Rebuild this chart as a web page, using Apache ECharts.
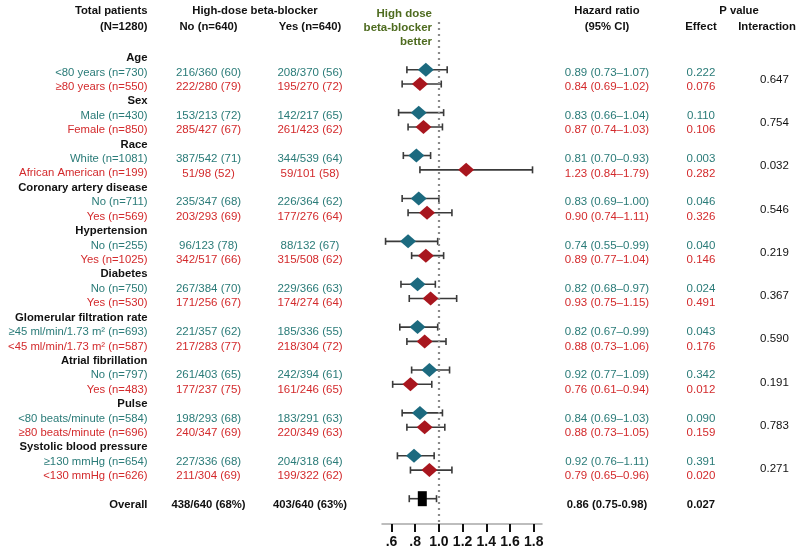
<!DOCTYPE html>
<html>
<head>
<meta charset="utf-8">
<script src="https://cdn.jsdelivr.net/npm/echarts@6/dist/echarts.min.js"></script>
<style>html,body{margin:0;padding:0;background:#fff}#c{width:800px;height:554px}</style>
</head>
<body>
<div id="c"></div>
<script>
// ---------- data ----------
const groups = ['Age','Sex','Race','Coronary artery disease','Hypertension','Diabetes','Glomerular filtration rate','Atrial fibrillation','Pulse','Systolic blood pressure'];
const subA = ['<80 years (n=730)','Male (n=430)','White (n=1081)','No (n=711)','No (n=255)','No (n=750)','≥45 ml/min/1.73 m² (n=693)','No (n=797)','<80 beats/minute (n=584)','≥130 mmHg (n=654)'];
const subB = ['≥80 years (n=550)','Female (n=850)','African American (n=199)','Yes (n=569)','Yes (n=1025)','Yes (n=530)','<45 ml/min/1.73 m² (n=587)','Yes (n=483)','≥80 beats/minute (n=696)','<130 mmHg (n=626)'];
const noA  = ['216/360 (60)','153/213 (72)','387/542 (71)','235/347 (68)','96/123 (78)','267/384 (70)','221/357 (62)','261/403 (65)','198/293 (68)','227/336 (68)'];
const noB  = ['222/280 (79)','285/427 (67)','51/98 (52)','203/293 (69)','342/517 (66)','171/256 (67)','217/283 (77)','177/237 (75)','240/347 (69)','211/304 (69)'];
const yesA = ['208/370 (56)','142/217 (65)','344/539 (64)','226/364 (62)','88/132 (67)','229/366 (63)','185/336 (55)','242/394 (61)','183/291 (63)','204/318 (64)'];
const yesB = ['195/270 (72)','261/423 (62)','59/101 (58)','177/276 (64)','315/508 (62)','174/274 (64)','218/304 (72)','161/246 (65)','220/349 (63)','199/322 (62)'];
const hrTextA = ['0.89 (0.73–1.07)','0.83 (0.66–1.04)','0.81 (0.70–0.93)','0.83 (0.69–1.00)','0.74 (0.55–0.99)','0.82 (0.68–0.97)','0.82 (0.67–0.99)','0.92 (0.77–1.09)','0.84 (0.69–1.03)','0.92 (0.76–1.11)'];
const hrTextB = ['0.84 (0.69–1.02)','0.87 (0.74–1.03)','1.23 (0.84–1.79)','0.90 (0.74–1.11)','0.89 (0.77–1.04)','0.93 (0.75–1.15)','0.88 (0.73–1.06)','0.76 (0.61–0.94)','0.88 (0.73–1.05)','0.79 (0.65–0.96)'];
const pEffA = ['0.222','0.110','0.003','0.046','0.040','0.024','0.043','0.342','0.090','0.391'];
const pEffB = ['0.076','0.106','0.282','0.326','0.146','0.491','0.176','0.012','0.159','0.020'];
const pInter = ['0.647','0.754','0.032','0.546','0.219','0.367','0.590','0.191','0.783','0.271'];
// plotted estimates (as drawn in the figure)
const estA = [0.89,0.83,0.81,0.83,0.74,0.82,0.82,0.92,0.84,0.79];
const loA  = [0.73,0.66,0.70,0.69,0.55,0.68,0.67,0.77,0.69,0.65];
const hiA  = [1.07,1.04,0.93,1.00,0.99,0.97,0.99,1.09,1.03,0.96];
const estB = [0.84,0.87,1.23,0.90,0.89,0.93,0.88,0.76,0.88,0.92];
const loB  = [0.69,0.74,0.84,0.74,0.77,0.75,0.73,0.61,0.73,0.76];
const hiB  = [1.02,1.03,1.79,1.11,1.04,1.15,1.06,0.94,1.05,1.11];
const overall = {est:0.86, lo:0.75, hi:0.98, no:'438/640 (68%)', yes:'403/640 (63%)', hr:'0.86 (0.75-0.98)', p:'0.027'};
const tickValues = [0.6,0.8,1.0,1.2,1.4,1.6,1.8];
const tickLabels = ['.6','.8','1.0','1.2','1.4','1.6','1.8'];

// ---------- styles ----------
const FF = '"Liberation Sans", Arial, sans-serif';
const TEAL_T = '#2a7b78', RED_T = '#d32a2c';
const TEAL_D = '#1c6a7f', RED_D = '#a8161e';
const GREEN = '#4e6b1f', INK = '#111';

const lineY = L => 58 + 14.42 * L;   // text rows
const OVERALL_ROW = 31;

const g = [];
function T(x, y, text, align, font, fill) {
  g.push({type:'text', x:x, y:y, silent:true,
    style:{text:text, align:align, verticalAlign:'middle', font:font, fill:fill}});
}
const BOLD = 'bold 11.3px ' + FF, REG = '11.3px ' + FF, NUM = '11.5px ' + FF;
const X_LAB = 147.5, X_NO = 208.5, X_YES = 310, X_HR = 607, X_EFF = 701, X_INT = 774.5;

// headers
T(X_LAB, 11, 'Total patients', 'right', BOLD, INK);
T(X_LAB, 27, '(N=1280)', 'right', BOLD, INK);
T(255, 11, 'High-dose beta-blocker', 'center', BOLD, INK);
T(X_NO, 27, 'No (n=640)', 'center', BOLD, INK);
T(X_YES, 27, 'Yes (n=640)', 'center', BOLD, INK);
T(432, 14, 'High dose', 'right', 'bold 11.5px ' + FF, GREEN);
T(432, 28, 'beta-blocker', 'right', 'bold 11.5px ' + FF, GREEN);
T(432, 42, 'better', 'right', 'bold 11.5px ' + FF, GREEN);
T(X_HR, 11, 'Hazard ratio', 'center', BOLD, INK);
T(X_HR, 27, '(95% CI)', 'center', BOLD, INK);
T(739, 11, 'P value', 'center', BOLD, INK);
T(X_EFF, 27, 'Effect', 'center', BOLD, INK);
T(767, 27, 'Interaction', 'center', BOLD, INK);

groups.forEach((name, i) => {
  const yh = lineY(3*i), ya = lineY(3*i+1), yb = lineY(3*i+2);
  T(X_LAB, yh, name, 'right', BOLD, INK);
  T(X_LAB, ya, subA[i], 'right', REG, TEAL_T);
  T(X_LAB, yb, subB[i], 'right', REG, RED_T);
  T(X_NO, ya, noA[i], 'center', NUM, TEAL_T);
  T(X_NO, yb, noB[i], 'center', NUM, RED_T);
  T(X_YES, ya, yesA[i], 'center', NUM, TEAL_T);
  T(X_YES, yb, yesB[i], 'center', NUM, RED_T);
  T(X_HR, ya, hrTextA[i], 'center', NUM, TEAL_T);
  T(X_HR, yb, hrTextB[i], 'center', NUM, RED_T);
  T(X_EFF, ya, pEffA[i], 'center', NUM, TEAL_T);
  T(X_EFF, yb, pEffB[i], 'center', NUM, RED_T);
  T(X_INT, (ya+yb)/2, pInter[i], 'center', NUM, INK);
});
const yo = lineY(OVERALL_ROW);
T(X_LAB, yo, 'Overall', 'right', BOLD, INK);
T(X_NO, yo, overall.no, 'center', BOLD, INK);
T(X_YES, yo, overall.yes, 'center', BOLD, INK);
T(X_HR, yo, overall.hr, 'center', BOLD, INK);
T(X_EFF, yo, overall.p, 'center', BOLD, INK);

// ---------- plot data ----------
const ciData = [];
groups.forEach((_, i) => {
  ciData.push([loA[i], hiA[i], 3*i+1]);
  ciData.push([loB[i], hiB[i], 3*i+2]);
});
ciData.push([overall.lo, overall.hi, OVERALL_ROW]);

const chart = echarts.init(document.getElementById('c'), null, {renderer:'canvas'});
chart.setOption({
  animation:false,
  backgroundColor:'#fff',
  grid:{left:382, width:160, top:22, height:502, containLabel:false},
  xAxis:{
    type:'value', min:0.52, max:1.87, position:'bottom',
    splitLine:{show:false},
    axisLine:{show:true, onZero:false, lineStyle:{color:'#a8a8a8', width:1.5}},
    axisTick:{show:true, customValues:tickValues, length:8, lineStyle:{color:'#111', width:2}},
    axisLabel:{show:true, customValues:tickValues, margin:11,
      formatter:v => { const k = tickValues.findIndex(t => Math.abs(t - v) < 1e-6); return k >= 0 ? tickLabels[k] : ''; },
      fontFamily:FF, fontWeight:'bold', fontSize:14, color:INK}
  },
  yAxis:{type:'value', inverse:true, min:-2.34, max:32.77, show:false},
  series:[
    {
      type:'custom', z:2, silent:true,
      data:ciData,
      renderItem:(params, api) => {
        const p1 = api.coord([api.value(0), api.value(2)]);
        const p2 = api.coord([api.value(1), api.value(2)]);
        const h = 3.5, st = {stroke:'#3a3a3a', lineWidth:1.6};
        return {type:'group', children:[
          {type:'line', shape:{x1:p1[0], y1:p1[1], x2:p2[0], y2:p2[1]}, style:st},
          {type:'line', shape:{x1:p1[0], y1:p1[1]-h, x2:p1[0], y2:p1[1]+h}, style:st},
          {type:'line', shape:{x1:p2[0], y1:p2[1]-h, x2:p2[0], y2:p2[1]+h}, style:st}
        ]};
      },
      markLine:{
        silent:true, symbol:'none', label:{show:false},
        lineStyle:{color:'#8a8a8a', type:[2,4], width:2.2},
        data:[{xAxis:1}]
      }
    },
    {type:'scatter', z:5, silent:true, symbol:'diamond', symbolSize:[16,14],
      itemStyle:{color:TEAL_D, opacity:1},
      data:estA.map((v, i) => [v, 3*i+1])},
    {type:'scatter', z:5, silent:true, symbol:'diamond', symbolSize:[16,14],
      itemStyle:{color:RED_D, opacity:1},
      data:estB.map((v, i) => [v, 3*i+2])},
    {type:'scatter', z:5, silent:true, symbol:'rect', symbolSize:[9,15],
      itemStyle:{color:'#000', opacity:1},
      data:[[overall.est, OVERALL_ROW]]}
  ],
  graphic:g
});
</script>
</body>
</html>
